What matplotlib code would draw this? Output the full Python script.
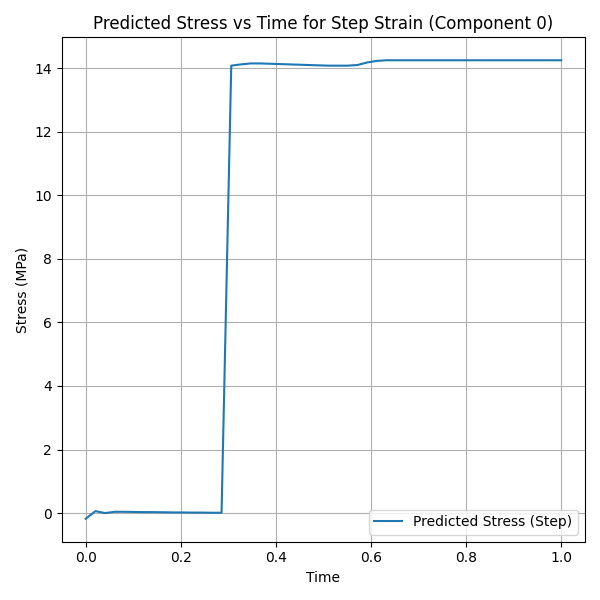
import numpy as np
import matplotlib
matplotlib.use("Agg")
import matplotlib.pyplot as plt

time = np.linspace(0, 1, 50)
stress = [-0.18, 0.06, 0.0, 0.04, 0.04, 0.035, 0.03, 0.03, 0.025, 0.02,
          0.02, 0.015, 0.015, 0.01, 0.01,
          14.08, 14.12, 14.15, 14.15, 14.14, 14.13, 14.12, 14.11, 14.10, 14.09,
          14.08, 14.08, 14.08, 14.10, 14.18, 14.23, 14.25, 14.25, 14.25, 14.25,
          14.25, 14.25, 14.25, 14.25, 14.25, 14.25, 14.25, 14.25, 14.25, 14.25,
          14.25, 14.25, 14.25, 14.25, 14.25]

fig, ax = plt.subplots(figsize=(6, 6), dpi=100)
ax.plot(time, stress, label="Predicted Stress (Step)")
ax.set_xlabel("Time")
ax.set_ylabel("Stress (MPa)")
ax.set_title("Predicted Stress vs Time for Step Strain (Component 0)")
ax.grid(True)
ax.legend(loc="lower right")
fig.tight_layout()
fig.savefig("out.png")
